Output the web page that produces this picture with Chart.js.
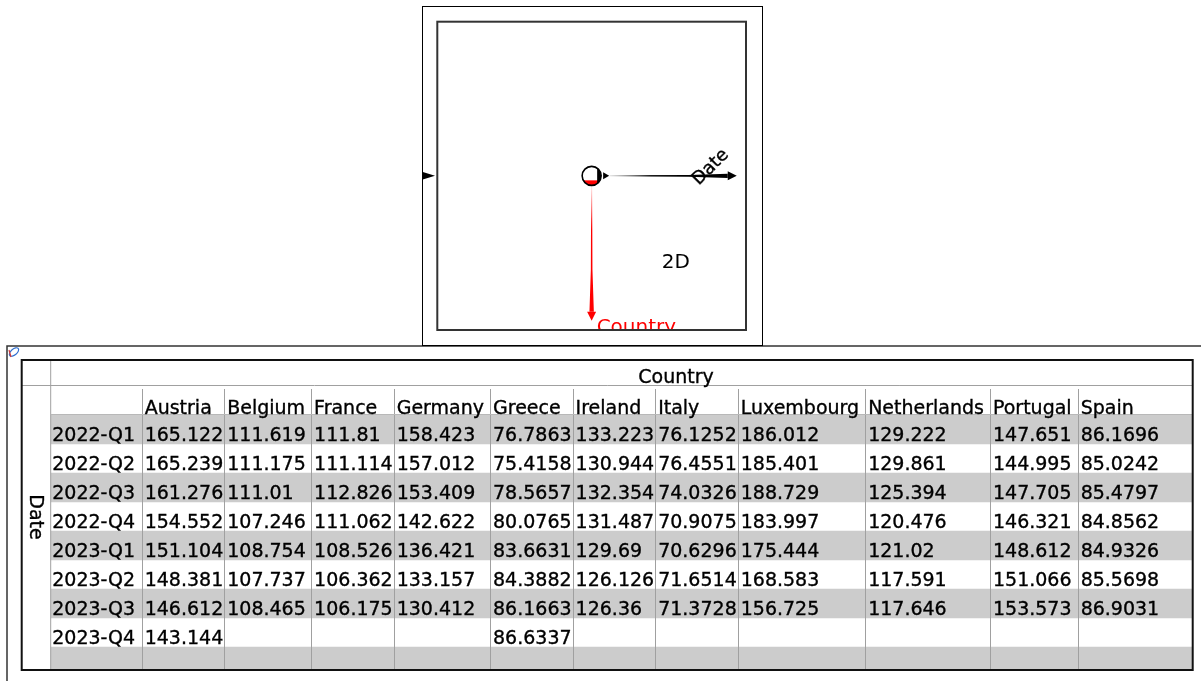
<!DOCTYPE html>
<html>
<head>
<meta charset="utf-8">
<title>Date x Country</title>
<script src="https://cdn.jsdelivr.net/npm/chart.js"></script>
<style>
  html, body { margin: 0; padding: 0; background: #fff; }
  #wrap { position: relative; width: 1201px; height: 681px; overflow: hidden; }
  #table-chart { position: absolute; left: 0; top: 0; }
  #axis-chart { position: absolute; left: 422px; top: 6px; }
</style>
</head>
<body>
<div id="wrap">
  <canvas id="table-chart" width="1201" height="681"></canvas>
  <canvas id="axis-chart" width="341" height="340"></canvas>
</div>
<script>
// Rows and columns of the table
const dates = ['2022-Q1', '2022-Q2', '2022-Q3', '2022-Q4', '2023-Q1', '2023-Q2', '2023-Q3', '2023-Q4'];
const countries = ['Austria', 'Belgium', 'France', 'Germany', 'Greece', 'Ireland', 'Italy',
                   'Luxembourg', 'Netherlands', 'Portugal', 'Spain'];

// One series per country, in date order (null = empty cell)
const austria     = [165.122, 165.239, 161.276, 154.552, 151.104, 148.381, 146.612, 143.144];
const belgium     = [111.619, 111.175, 111.01, 107.246, 108.754, 107.737, 108.465, null];
const france      = [111.81, 111.114, 112.826, 111.062, 108.526, 106.362, 106.175, null];
const germany     = [158.423, 157.012, 153.409, 142.622, 136.421, 133.157, 130.412, null];
const greece      = [76.7863, 75.4158, 78.5657, 80.0765, 83.6631, 84.3882, 86.1663, 86.6337];
const ireland     = [133.223, 130.944, 132.354, 131.487, 129.69, 126.126, 126.36, null];
const italy       = [76.1252, 76.4551, 74.0326, 70.9075, 70.6296, 71.6514, 71.3728, null];
const luxembourg  = [186.012, 185.401, 188.729, 183.997, 175.444, 168.583, 156.725, null];
const netherlands = [129.222, 129.861, 125.394, 120.476, 121.02, 117.591, 117.646, null];
const portugal    = [147.651, 144.995, 147.705, 146.321, 148.612, 151.066, 153.573, null];
const spain       = [86.1696, 85.0242, 85.4797, 84.8562, 84.9326, 85.5698, 86.9031, null];

const series = [austria, belgium, france, germany, greece, ireland, italy,
                luxembourg, netherlands, portugal, spain];

// Axis names shown in the orientation widget
const rowAxis = 'Date';
const colAxis = 'Country';
const viewLabel = '2D';

const FONT = '19px "DejaVu Sans"';
const fmt = v => (v == null ? '' : String(Number(v.toPrecision(6))));

// box of the table and its drawing area (header row + data rows)
const box = { left: 21.7, top: 360, right: 1192.7, bottom: 670 };
const area = { left: 50.7, top: 386, right: 1192.7, bottom: 676 };
const tableWidth = area.right - area.left;

// column widths from the text they hold, like an auto-sized table
const measure = document.createElement('canvas').getContext('2d');
measure.font = FONT;
function textW(s) { return measure.measureText(s).width; }

const edges = [0];
edges.push(Math.max(82, Math.max(...dates.map(textW)) + 8));
countries.forEach((c, i) => {
    if (i === countries.length - 1) { edges.push(tableWidth); return; }
    const w = Math.max(82, textW(c) + 9, Math.max(...series[i].map(v => textW(fmt(v)))) + 4);
    edges.push(edges[edges.length - 1] + w);
});

// header row, one row per date, and one trailing empty row
const rowLabels = ['header', ...dates, 'end'];
const stripes = rowLabels.map((r, i) => (i % 2 === 1 ? [0, tableWidth] : null));

function cellText(ctx, s, x, y) {
    ctx.fillText(s, x, y);
    ctx.strokeText(s, x, y);
}

const tablePlugin = {
    id: 'tableCells',
    afterDatasetsDraw(chart) {
        const { ctx, scales: { x, y } } = chart;
        const px = v => x.getPixelForValue(v);
        ctx.save();

        // nothing below the table box
        ctx.fillStyle = '#fff';
        ctx.fillRect(8, box.bottom + 1, 1201, 20);

        // grid
        ctx.strokeStyle = '#a0a0a0';
        ctx.lineWidth = 1;
        ctx.beginPath();
        ctx.moveTo(box.left, 385.5); ctx.lineTo(box.right, 385.5);
        ctx.moveTo(px(0), box.top); ctx.lineTo(px(0), box.bottom);
        for (let i = 1; i < edges.length - 1; i++) {
            const ex = Math.round(px(edges[i])) + 0.5;
            ctx.moveTo(ex, 389); ctx.lineTo(ex, box.bottom);
        }
        ctx.stroke();
        ctx.strokeStyle = '#b8b8b8';
        ctx.beginPath();
        ctx.moveTo(px(0), 414.5); ctx.lineTo(box.right, 414.5);
        ctx.stroke();

        // text
        ctx.font = FONT;
        ctx.fillStyle = '#000';
        ctx.strokeStyle = '#000';
        ctx.lineWidth = 0.35;
        ctx.textBaseline = 'alphabetic';
        ctx.textAlign = 'left';
        const headY = y.getPixelForValue(0) + 13;
        countries.forEach((c, i) => cellText(ctx, c, px(edges[i + 1]) + 3, headY));
        dates.forEach((d, r) => {
            const cy = y.getPixelForValue(r + 1) + 11.5;
            cellText(ctx, d, px(edges[0]) + 1.5, cy);
            series.forEach((s, i) => {
                if (s[r] != null) cellText(ctx, fmt(s[r]), px(edges[i + 1]) + 3, cy);
            });
        });

        ctx.textAlign = 'center';
        cellText(ctx, colAxis, 676, 383);
        ctx.save();
        ctx.translate(35, (box.top + box.bottom) / 2 + 2);
        ctx.rotate(Math.PI / 2);
        ctx.textBaseline = 'middle';
        cellText(ctx, rowAxis, 0, 0);
        ctx.restore();

        // table box
        ctx.strokeStyle = '#111';
        ctx.lineWidth = 2;
        ctx.strokeRect(box.left, box.top, box.right - box.left, box.bottom - box.top);

        // outer frame
        ctx.strokeStyle = '#333';
        ctx.lineWidth = 1.5;
        ctx.beginPath();
        ctx.moveTo(7, 681); ctx.lineTo(7, 346); ctx.lineTo(1201, 346);
        ctx.stroke();

        // little tool icon
        ctx.lineWidth = 1.2;
        ctx.strokeStyle = '#2f6fd0';
        ctx.beginPath();
        ctx.ellipse(14, 352, 5.5, 3, -0.7, 0, Math.PI * 2);
        ctx.stroke();
        ctx.strokeStyle = '#d03a3a';
        ctx.beginPath();
        ctx.moveTo(9, 350); ctx.lineTo(11, 357);
        ctx.stroke();
        ctx.restore();
    }
};

new Chart(document.getElementById('table-chart'), {
    type: 'bar',
    data: {
        labels: rowLabels,
        datasets: [{
            data: stripes,
            backgroundColor: '#cccccc',
            borderWidth: 0,
            barPercentage: 1,
            categoryPercentage: 1
        }]
    },
    options: {
        indexAxis: 'y',
        responsive: false,
        animation: false,
        devicePixelRatio: 1,
        layout: { padding: { left: area.left, right: 1201 - area.right, top: area.top, bottom: 681 - area.bottom } },
        scales: {
            x: { type: 'linear', min: 0, max: tableWidth, display: false },
            y: { type: 'category', display: false, offset: true }
        },
        plugins: { legend: { display: false }, tooltip: { enabled: false } }
    },
    plugins: [tablePlugin]
});

// orientation widget: rows run along +x, columns along -y
function wedgeArrow(ctx, x0, y0, x1, y1, color, fade) {
    const len = Math.hypot(x1 - x0, y1 - y0);
    const ux = (x1 - x0) / len, uy = (y1 - y0) / len;
    const nx = -uy, ny = ux;
    const head = 9, hw = 4.5;
    const bx = x1 - ux * head, by = y1 - uy * head;
    const g = ctx.createLinearGradient(x0, y0, bx, by);
    g.addColorStop(0, fade);
    g.addColorStop(0.35, color);
    g.addColorStop(1, color);
    ctx.fillStyle = g;
    const mx = x0 + ux * len * 0.62, my = y0 + uy * len * 0.62;
    ctx.beginPath();
    ctx.moveTo(x0 + nx * 0.5, y0 + ny * 0.5);
    ctx.lineTo(mx + nx * 0.8, my + ny * 0.8);
    ctx.lineTo(bx + nx * 2.2, by + ny * 2.2);
    ctx.lineTo(bx - nx * 2.2, by - ny * 2.2);
    ctx.lineTo(mx - nx * 0.8, my - ny * 0.8);
    ctx.lineTo(x0 - nx * 0.5, y0 - ny * 0.5);
    ctx.closePath();
    ctx.fill();
    ctx.fillStyle = color;
    ctx.beginPath();
    ctx.moveTo(x1, y1);
    ctx.lineTo(bx + nx * hw, by + ny * hw);
    ctx.lineTo(bx - nx * hw, by - ny * hw);
    ctx.closePath();
    ctx.fill();
}

const axisPlugin = {
    id: 'axisWidget',
    afterDraw(chart) {
        const { ctx, chartArea: a, scales: { x, y } } = chart;
        const ox = x.getPixelForValue(0), oy = y.getPixelForValue(0);
        const tipX = x.getPixelForValue(0.94), tipY = y.getPixelForValue(-0.94);
        ctx.save();

        // outer frame
        ctx.strokeStyle = '#000';
        ctx.lineWidth = 1;
        ctx.strokeRect(0.5, 0.5, chart.width - 1, chart.height - 1);

        // slice marker on the left edge
        ctx.fillStyle = '#000';
        ctx.beginPath();
        ctx.moveTo(0, oy - 4); ctx.lineTo(13, oy); ctx.lineTo(0, oy + 4);
        ctx.closePath();
        ctx.fill();

        ctx.save();
        ctx.beginPath();
        ctx.rect(a.left, a.top, a.right - a.left, a.bottom - a.top);
        ctx.clip();

        wedgeArrow(ctx, ox + 18, oy, tipX, oy, '#000', 'rgba(0,0,0,0.12)');
        wedgeArrow(ctx, ox, oy + 10, ox, tipY, '#ff0000', 'rgba(255,0,0,0.08)');

        // little pointer right of the knob
        ctx.fillStyle = '#000';
        ctx.beginPath();
        ctx.moveTo(ox + 11.5, oy - 3.5); ctx.lineTo(ox + 17.5, oy); ctx.lineTo(ox + 11.5, oy + 3.5);
        ctx.closePath();
        ctx.fill();

        // knob
        const r = 9.5;
        ctx.fillStyle = '#fff';
        ctx.beginPath(); ctx.arc(ox, oy, r, 0, Math.PI * 2); ctx.fill();
        ctx.save();
        ctx.beginPath(); ctx.arc(ox, oy, r, 0, Math.PI * 2); ctx.clip();
        ctx.fillStyle = '#ff0000';
        ctx.fillRect(ox - r, oy + 4.5, 2 * r, r);
        ctx.fillStyle = '#000';
        ctx.fillRect(ox + 5.5, oy - r, r, 2 * r);
        ctx.restore();
        ctx.strokeStyle = '#000';
        ctx.lineWidth = 1.6;
        ctx.beginPath(); ctx.arc(ox, oy, r, 0, Math.PI * 2); ctx.stroke();

        // labels
        ctx.font = '18px "DejaVu Sans"';
        ctx.fillStyle = '#000';
        ctx.strokeStyle = '#000';
        ctx.lineWidth = 0.35;
        ctx.textAlign = 'center';
        ctx.textBaseline = 'middle';
        ctx.save();
        ctx.translate(tipX - 26, oy - 8.5);
        ctx.rotate(-Math.PI / 4);
        ctx.fillText(rowAxis, 0, 0);
        ctx.strokeText(rowAxis, 0, 0);
        ctx.restore();

        ctx.font = '20px "DejaVu Sans"';
        ctx.fillText(viewLabel, x.getPixelForValue(0.545), y.getPixelForValue(-0.562));

        ctx.fillStyle = '#ff0000';
        ctx.textAlign = 'left';
        ctx.textBaseline = 'alphabetic';
        ctx.fillText(colAxis, ox + 5, tipY + 12);
        ctx.restore();

        // inner frame
        ctx.strokeStyle = '#333';
        ctx.lineWidth = 2;
        ctx.strokeRect(a.left, a.top, a.right - a.left, a.bottom - a.top);
        ctx.restore();
    }
};

new Chart(document.getElementById('axis-chart'), {
    type: 'scatter',
    data: { datasets: [{ data: [{ x: 0, y: 0 }], pointRadius: 0 }] },
    options: {
        responsive: false,
        animation: false,
        devicePixelRatio: 1,
        layout: { padding: { left: 15.3, right: 17, top: 15.7, bottom: 16 } },
        scales: {
            x: { type: 'linear', min: -1, max: 1, display: false },
            y: { type: 'linear', min: -1, max: 1, display: false }
        },
        plugins: { legend: { display: false }, tooltip: { enabled: false } }
    },
    plugins: [axisPlugin]
});
</script>
</body>
</html>
